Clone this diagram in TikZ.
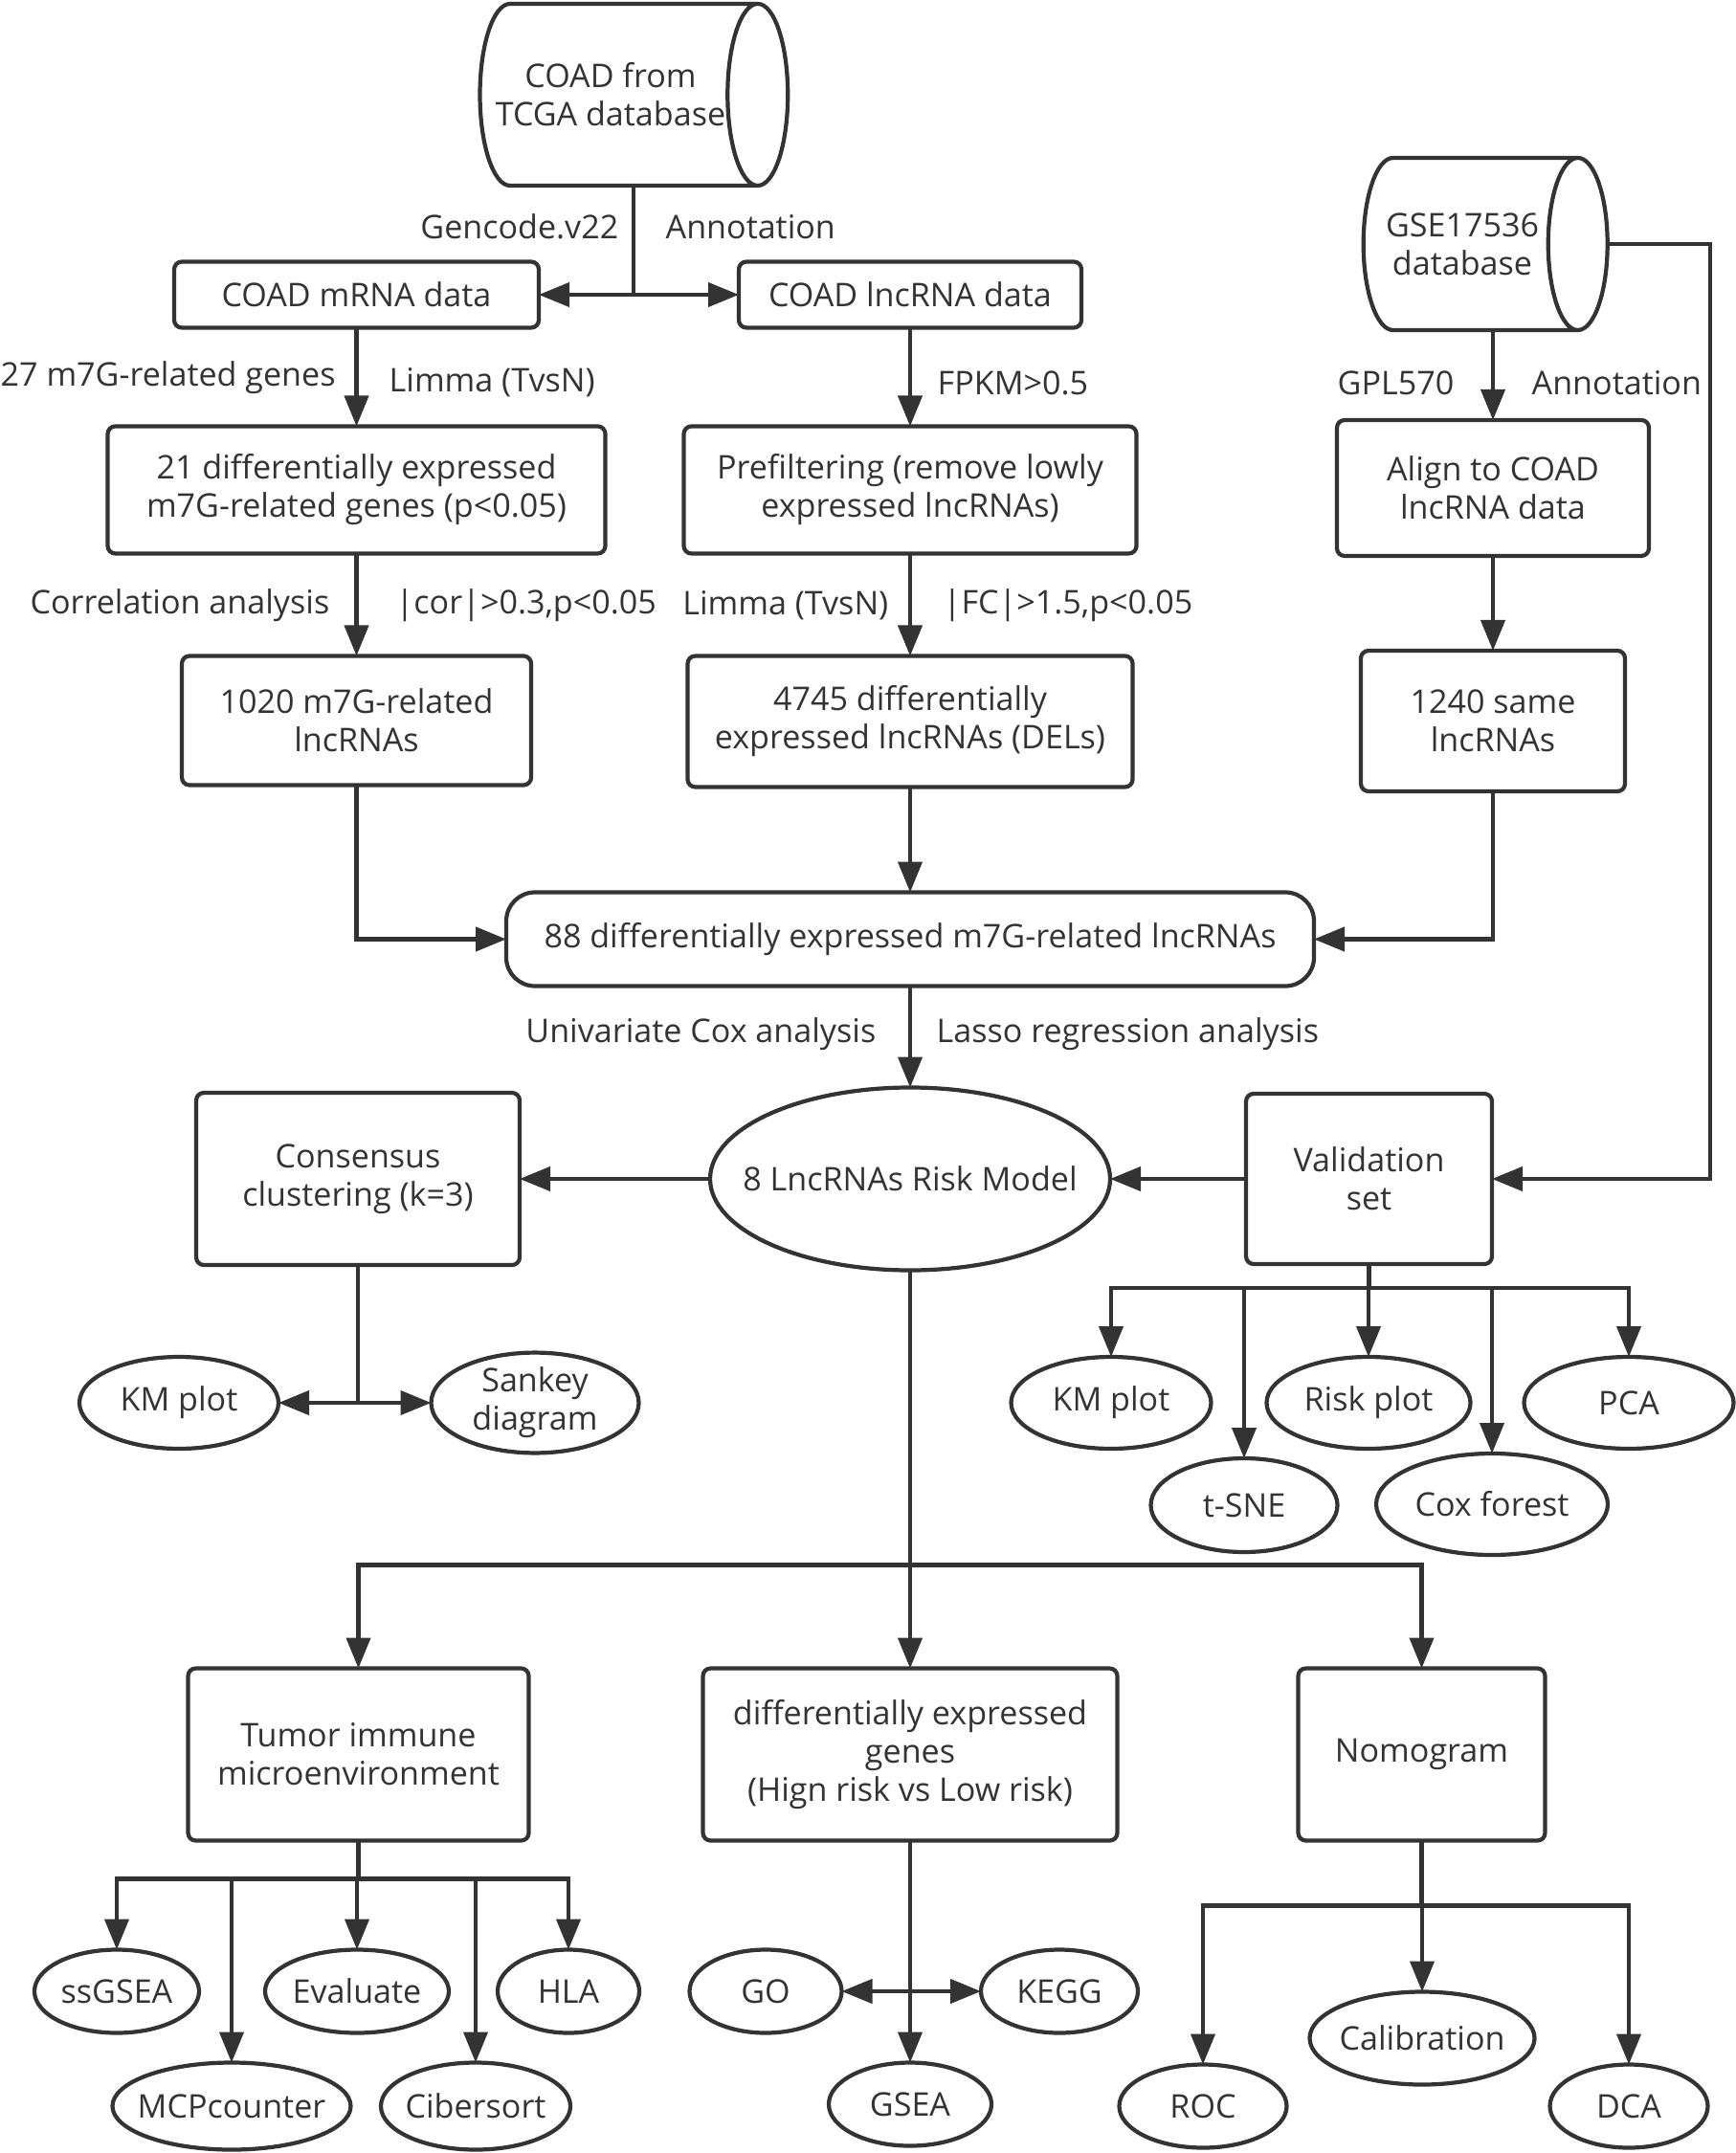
\documentclass[tikz,border=0pt]{standalone}
\usepackage{fontspec}
\setmainfont{Open Sans}
\usepackage{tikz}
\usetikzlibrary{shapes.geometric,arrows.meta,positioning}
\definecolor{flowgray}{RGB}{51,51,51}
\newcommand{\ovaltext}[1]{\makebox[0pt]{#1}}

\begin{document}
\begin{tikzpicture}[
  font=\fontsize{9.7}{11.4}\selectfont,
  >={Triangle[length=3.2mm,width=2.5mm]},
  line/.style={draw=flowgray, line width=1.2pt},
  arrow/.style={line, ->},
  box/.style={rectangle, rounded corners=0.8mm, draw=flowgray, line width=1.2pt, text=flowgray, align=center, inner sep=2pt, outer sep=0pt},
  db/.style={cylinder, shape border rotate=0, aspect=0.7, inner xsep=0pt, draw=flowgray, line width=1.2pt, text=flowgray, align=center, outer sep=0pt},
  oval/.style={ellipse, draw=flowgray, line width=1.2pt, text=flowgray, align=center, inner sep=0pt, outer sep=0pt, minimum height=0.87cm},
  lbl/.style={text=flowgray, inner sep=0pt}
]
\useasboundingbox (0,0) rectangle (18.13,-22.5);

% Sources
\node[db, minimum width=1.9cm, minimum height=3.13cm] (tcga) at (6.38,-0.99) {COAD from\\TCGA database};
\node[db, minimum width=1.8cm, minimum height=2.55cm] (gse) at (15.28,-2.55) {GSE17536\\database};

% TCGA branch
\node[box, minimum width=3.81cm, minimum height=0.69cm] (mrna) at (3.725,-3.08) {COAD mRNA data};
\node[box, minimum width=3.58cm, minimum height=0.69cm] (lnc) at (9.51,-3.08) {COAD lncRNA data};
\node[box, below=1.03cm of mrna, minimum width=5.2cm, minimum height=1.33cm] (demrna) {21 differentially expressed\\m7G-related genes (p<0.05)};
\node[box, below=1.07cm of demrna, minimum width=3.65cm, minimum height=1.35cm] (m7glnc) {1020 m7G-related\\lncRNAs};
\node[box, below=1.03cm of lnc, minimum width=4.73cm, minimum height=1.33cm] (prefilt) {Prefiltering (remove lowly\\expressed lncRNAs)};
\node[box, below=1.07cm of prefilt, minimum width=4.65cm, minimum height=1.37cm] (dels) {4745 differentially\\expressed lncRNAs (DELs)};

% GEO branch
\node[box, minimum width=3.26cm, minimum height=1.42cm] (align) at (15.60,-5.10) {Align to COAD\\lncRNA data};
\node[box, below=0.99cm of align, minimum width=2.76cm, minimum height=1.47cm] (same) {1240 same\\lncRNAs};

% Intersection and model
\node[box, below=1.10cm of dels, rounded corners=3mm, minimum width=8.44cm, minimum height=0.98cm] (dem88) {88 differentially expressed m7G-related lncRNAs};
\node[oval, below=1.06cm of dem88, minimum width=4.18cm, minimum height=1.91cm] (riskmodel) {\ovaltext{8 LncRNAs Risk Model}};
\node[box, left=1.99cm of riskmodel, minimum width=3.38cm, minimum height=1.8cm] (consensus) {Consensus\\clustering (k=3)};
\node[box, right=1.42cm of riskmodel, minimum width=2.57cm, minimum height=1.78cm] (validation) {Validation\\set};

% Clustering results
\node[oval, minimum width=2.08cm, minimum height=0.96cm] (km1) at (1.87,-14.66) {KM plot};
\node[oval, minimum width=2.17cm, minimum height=0.90cm] (sankey) at (5.59,-14.66) {Sankey\\diagram};

% Validation results
\node[oval, minimum width=2.09cm, minimum height=0.96cm] (km2) at (11.61,-14.66) {KM plot};
\node[oval, minimum width=1.95cm, minimum height=0.98cm] (tsne) at (13.00,-15.73) {t-SNE};
\node[oval, minimum width=2.13cm, minimum height=0.96cm] (riskplot) at (14.30,-14.66) {Risk plot};
\node[oval, minimum width=2.42cm, minimum height=1.06cm] (cox) at (15.59,-15.72) {Cox forest};
\node[oval, minimum width=2.19cm, minimum height=0.96cm] (pca) at (17.02,-14.66) {PCA};

% Downstream analyses
\node[box, below=4.16cm of riskmodel, minimum width=4.33cm, minimum height=1.8cm] (deg) {differentially expressed\\genes\\(Hign risk vs Low risk)};
\node[box, left=1.82cm of deg, minimum width=3.56cm, minimum height=1.8cm] (tme) {Tumor immune\\microenvironment};
\node[box, right=1.89cm of deg, minimum width=2.58cm, minimum height=1.8cm] (nomogram) {Nomogram};

% Leaves
\node[oval, minimum width=1.72cm] (ssgsea) at (1.22,-20.81) {ssGSEA};
\node[oval, minimum width=2.49cm, minimum height=0.91cm] (mcp) at (2.42,-22.01) {\ovaltext{MCPcounter}};
\node[oval, minimum width=1.92cm] (evaluate) at (3.73,-20.81) {Evaluate};
\node[oval, minimum width=1.98cm, minimum height=0.91cm] (cibersort) at (4.97,-22.01) {\ovaltext{Cibersort}};
\node[oval, minimum width=1.48cm] (hla) at (5.94,-20.81) {HLA};
\node[oval, minimum width=1.59cm] (go) at (8.00,-20.81) {GO};
\node[oval, minimum width=1.64cm] (kegg) at (11.07,-20.81) {KEGG};
\node[oval, below=2.32cm of deg, minimum width=1.70cm] (gsea) {GSEA};
\node[oval, minimum width=1.75cm] (roc) at (12.57,-22.01) {ROC};
\node[oval, minimum width=2.35cm, minimum height=0.97cm] (calib) at (14.86,-21.30) {\ovaltext{Calibration}};
\node[oval, minimum width=1.65cm] (dca) at (17.02,-22.01) {DCA};

% Edge labels
\node[lbl, anchor=east] (gencode) at (6.47,-2.37) {Gencode.v22};
\node[lbl, anchor=west] (annot1) at (6.95,-2.37) {Annotation};
\node[lbl, anchor=west] (genes27) at (0.0,-3.95) {27 m7G-related genes};
\node[lbl, anchor=west] (limma1) at (4.06,-4.00) {Limma (TvsN)};
\node[lbl, anchor=west] (fpkm) at (9.79,-4.00) {FPKM>0.5};
\node[lbl, anchor=west] (gpl) at (13.97,-4.00) {GPL570};
\node[lbl, anchor=west] (annot2) at (16.00,-4.00) {Annotation};
\node[lbl, anchor=east] (corr) at (3.45,-6.33) {Correlation analysis};
\node[lbl, anchor=west] (corthr) at (4.13,-6.33) {|cor|>0.3,p<0.05};
\node[lbl, anchor=east] (limma2) at (9.29,-6.33) {Limma (TvsN)};
\node[lbl, anchor=west] (fcthr) at (9.85,-6.33) {|FC|>1.5,p<0.05};
\node[lbl, anchor=east] (unicox) at (9.16,-10.81) {Univariate Cox analysis};
\node[lbl, anchor=west] (lasso) at (9.78,-10.81) {Lasso regression analysis};

% Arrows
\draw[arrow] (tcga.shape center |- tcga.south) |- (mrna.east);
\draw[arrow] (tcga.shape center |- tcga.south) |- (lnc.west);
\draw[arrow] (mrna) -- (demrna);
\draw[arrow] (demrna) -- (m7glnc);
\draw[arrow] (lnc) -- (prefilt);
\draw[arrow] (prefilt) -- (dels);
\draw[arrow] (align.north |- gse.south) -- (align.north);
\draw[arrow] (align) -- (same);
\draw[arrow] (m7glnc.south) |- (dem88.west);
\draw[arrow] (dels) -- (dem88);
\draw[arrow] (same.south) |- (dem88.east);
\draw[arrow] (dem88) -- (riskmodel);
\draw[arrow] (riskmodel) -- (consensus);
\draw[arrow] (validation) -- (riskmodel);
\coordinate (rail) at (17.87,0);
\draw[arrow] (gse.east) -- (gse.east -| rail) |- (validation.east);

\coordinate (consfork) at (consensus.south |- km1.east);
\draw[line] (consensus.south) -- (consfork);
\draw[arrow] (consfork) -- (km1.east);
\draw[arrow] (consfork) -- (sankey.west);

\draw[line] (validation.south) -- ++(0,-0.25) coordinate (valfork);
\foreach \n in {km2,tsne,riskplot,cox,pca}
  \draw[arrow] (valfork) -| (\n.north);

\draw[line] (riskmodel.south) -- ++(0,-3.08) coordinate (riskfork);
\foreach \n in {tme,deg,nomogram}
  \draw[arrow] (riskfork) -| (\n.north);

\draw[line] (tme.south) -- ++(0,-0.40) coordinate (tmefork);
\foreach \n in {ssgsea,mcp,evaluate,cibersort,hla}
  \draw[arrow] (tmefork) -| (\n.north);

\draw[arrow] (deg) -- (gsea);
\draw[line, <->] (go) -- (kegg);

\draw[line] (nomogram.south) -- ++(0,-0.68) coordinate (nomofork);
\foreach \n in {roc,calib,dca}
  \draw[arrow] (nomofork) -| (\n.north);

\end{tikzpicture}
\end{document}
